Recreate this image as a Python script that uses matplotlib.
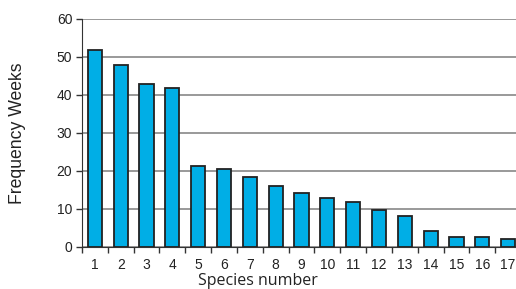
import numpy as np
import matplotlib.pyplot as plt

# species and frequency (weeks)
species = np.arange(1, 18)
weeks = [51.8, 47.9, 42.9, 41.8, 21.3, 20.5, 18.4, 16.0, 14.2, 12.9,
         11.8, 9.7, 8.1, 4.2, 2.6, 2.6, 2.1]
yticks = [0, 10, 20, 30, 40, 50, 60]

fig = plt.figure(figsize=(5.16, 2.89), dpi=100)
ax = fig.add_axes([82/516, 42/289, 439/516, 228/289])

ax.bar(species, weeks, width=0.55, color='#00aee6', edgecolor='#222222',
       linewidth=1.3, zorder=3)

ax.set_xlim(0.5, 17.5)
ax.set_ylim(0, 60)
ax.set_yticks(yticks)
ax.set_xticks(species)
ax.set_xticks(np.arange(0.5, 17.5, 1), minor=True)
ax.tick_params(axis='x', which='major', length=0, pad=8)
ax.tick_params(axis='x', which='minor', length=4, width=1, color='#333333')
ax.tick_params(axis='y', length=4, width=1, color='#333333', pad=3)
for lab in ax.get_xticklabels() + ax.get_yticklabels():
    lab.set_fontfamily('Liberation Sans')
    lab.set_fontsize(10)
    lab.set_color('#222222')

ax.grid(axis='y', color='#888888', linewidth=1.2, zorder=0)
ax.spines['top'].set_visible(False)
ax.spines['right'].set_visible(False)
ax.spines['left'].set_color('#333333')
ax.spines['bottom'].set_color('#333333')
ax.spines['bottom'].set_zorder(4)

ax.set_ylabel('Frequency Weeks', fontfamily='Liberation Sans', fontsize=12.7,
              color='#222222', labelpad=22)
ax.set_xlabel('Species number', fontfamily='Open Sans', fontsize=11.5,
              color='#222222', va='center')
ax.xaxis.set_label_coords((258 - 82) / 439, -0.15)

fig.savefig('out.png', dpi=100)
